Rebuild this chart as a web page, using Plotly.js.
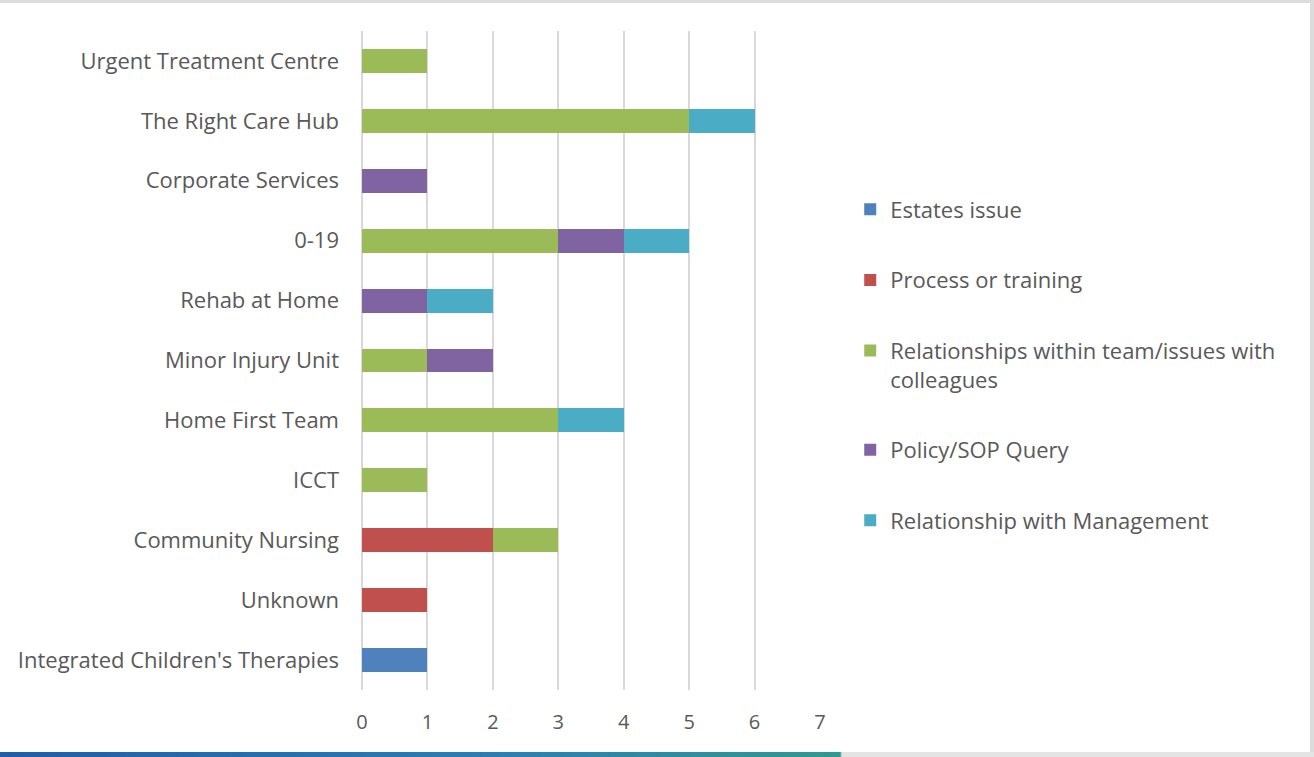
<!DOCTYPE html>
<html>
<head>
<meta charset="utf-8">
<script src="https://cdn.plot.ly/plotly-3.0.1.min.js"></script>
<style>
  html, body { margin: 0; padding: 0; background: #fff; }
  #wrap { position: relative; width: 1314px; height: 757px; overflow: hidden; }
  #chart { width: 1314px; height: 757px; }
  #frame { position: absolute; left: 0; top: 0; width: 1314px; height: 757px; box-sizing: border-box;
           border-top: 3px solid #dcdcdc; border-right: 4px solid #dcdcdc; pointer-events: none; }
  #strip { position: absolute; left: 0; bottom: 0; width: 1314px; height: 5px; pointer-events: none;
           background: linear-gradient(to right, #1d5ea8 0px, #2a7fb5 500px, #2f9a8f 840px, #e4e4e4 842px, #e4e4e4 1314px); }
</style>
</head>
<body>
<div id="wrap">
  <div id="chart"></div>
  <div id="frame"></div>
  <div id="strip"></div>
</div>
<script>
// Service areas, listed bottom to top
const services = [
  "Integrated Children's Therapies",
  "Unknown",
  "Community Nursing",
  "ICCT",
  "Home First Team",
  "Minor Injury Unit",
  "Rehab at Home",
  "0-19",
  "Corporate Services",
  "The Right Care Hub",
  "Urgent Treatment Centre"
];

// Number of concerns per theme, aligned with services
const estatesIssue        = [1, 0, 0, 0, 0, 0, 0, 0, 0, 0, 0];
const processOrTraining   = [0, 1, 2, 0, 0, 0, 0, 0, 0, 0, 0];
const teamRelationships   = [0, 0, 1, 1, 3, 1, 0, 3, 0, 5, 1];
const policySopQuery      = [0, 0, 0, 0, 0, 1, 1, 1, 1, 0, 0];
const managementRelations = [0, 0, 0, 0, 1, 0, 1, 1, 0, 1, 0];

const seriesNames = [
  "Estates issue",
  "Process or training",
  "Relationships within team/issues with<br>colleagues",
  "Policy/SOP Query",
  "Relationship with Management"
];
const seriesColors = ["#4F81BD", "#C0504D", "#9BBB59", "#8064A2", "#4BACC6"];
const seriesValues = [estatesIssue, processOrTraining, teamRelationships, policySopQuery, managementRelations];

const traces = seriesValues.map((vals, i) => ({
  type: "bar",
  orientation: "h",
  name: seriesNames[i],
  y: services,
  x: vals,
  legendgroup: "g" + i,
  marker: { color: seriesColors[i], line: { width: 0 } },
  hoverinfo: "x+y+name"
}));

const font = "'Open Sans', Lato, 'Noto Sans', sans-serif";

const layout = {
  width: 1314,
  height: 757,
  barmode: "stack",
  bargap: 0.6,
  paper_bgcolor: "#ffffff",
  plot_bgcolor: "#ffffff",
  margin: { l: 362, r: 494, t: 31, b: 67, pad: 0 },
  font: { family: font, color: "#595959", size: 20 },
  xaxis: {
    range: [0, 7],
    dtick: 1,
    showgrid: true,
    gridcolor: "#d9d9d9",
    gridwidth: 2,
    zeroline: true,
    zerolinecolor: "#d9d9d9",
    zerolinewidth: 2,
    showline: false,
    ticks: "",
    ticklabelstandoff: 18,
    tickfont: { family: font, size: 20, color: "#595959" },
    fixedrange: true
  },
  yaxis: {
    type: "category",
    categoryorder: "array",
    categoryarray: services,
    showgrid: false,
    zeroline: false,
    showline: false,
    ticks: "",
    ticklabelstandoff: 22,
    tickfont: { family: font, size: 22, color: "#595959" },
    fixedrange: true
  },
  legend: {
    x: 1.066,
    xanchor: "left",
    y: 0.761,
    yanchor: "top",
    traceorder: "grouped",
    tracegroupgap: 39,
    valign: "top",
    itemwidth: 30,
    font: { family: font, size: 22, color: "#595959" },
    bgcolor: "rgba(0,0,0,0)"
  },
  showlegend: true
};

Plotly.newPlot("chart", traces, layout, { displayModeBar: false });
</script>
</body>
</html>
